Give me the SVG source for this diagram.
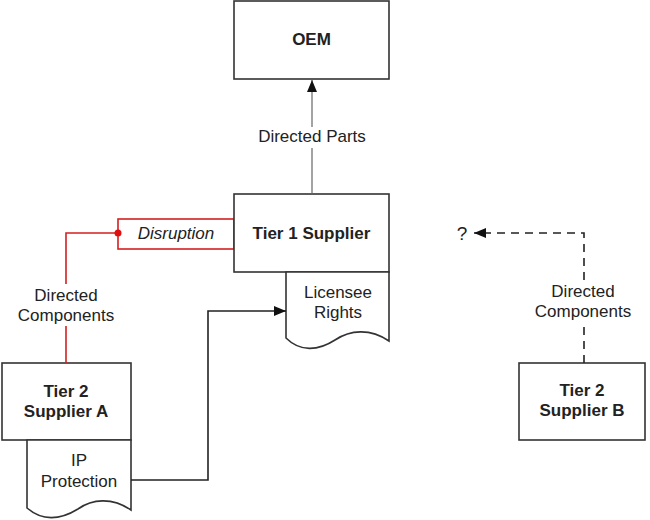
<svg xmlns="http://www.w3.org/2000/svg" width="650" height="520" viewBox="0 0 650 520">
<defs>
<style>
.box{fill:#fff;stroke:#333;stroke-width:1.6}
.t{font-family:"Liberation Sans",Arial,sans-serif;font-size:17px;fill:#222;text-anchor:middle}
.b{font-weight:bold}
.i{font-style:italic}
.ln{fill:none;stroke:#222;stroke-width:1.6}
.gray{fill:none;stroke:#666;stroke-width:1.2}
.red{fill:none;stroke:#d42020;stroke-width:1.6}
.dash{fill:none;stroke:#222;stroke-width:1.6;stroke-dasharray:8 6}
</style>
<marker id="ah" viewBox="0 0 12 10" refX="12" refY="5" markerWidth="12" markerHeight="10" markerUnits="userSpaceOnUse" orient="auto">
<path d="M0,0 L12,5 L0,10 Z" fill="#111"/>
</marker>
</defs>
<rect width="650" height="520" fill="#fff"/>
<g id="oem">
<rect class="box" x="234" y="1" width="155" height="78"/>
<text class="t b" x="311.5" y="45">OEM</text>
</g>
<g id="disruption">
<rect x="118" y="219" width="116" height="30" fill="#fff" stroke="#d42020" stroke-width="1.6"/>
<text class="t i" x="176" y="239">Disruption</text>
</g>
<g id="tier1">
<rect class="box" x="234" y="194" width="155" height="78"/>
<text class="t b" x="311.5" y="239">Tier 1 Supplier</text>
</g>
<g id="licensee">
<path class="box" d="M286,272 H389 V341 C370,328 350,330 335,340 C318,351 300,352 286,338 Z"/>
<text class="t" x="338" y="298">Licensee</text>
<text class="t" x="338" y="318">Rights</text>
</g>
<g id="tier2a">
<rect class="box" x="2" y="363" width="129" height="77"/>
<text class="t b" x="66" y="397">Tier 2</text>
<text class="t b" x="66" y="417">Supplier A</text>
</g>
<g id="ip">
<path class="box" d="M27,440 H131 V510 C112,497 92,499 78,509 C60,520 42,521 27,508 Z"/>
<text class="t" x="79" y="466">IP</text>
<text class="t" x="79" y="487">Protection</text>
</g>
<g id="tier2b">
<rect class="box" x="519" y="363" width="126" height="77"/>
<text class="t b" x="582" y="396">Tier 2</text>
<text class="t b" x="582" y="416">Supplier B</text>
</g>
<g id="connectors">
<path class="gray" d="M312,194 V148"/>
<path class="gray" d="M312,127 V80" marker-end="url(#ah)"/>
<path class="red" d="M118,233 H66 V284"/>
<path class="red" d="M66,326 V363"/>
<circle cx="118" cy="233" r="3.5" fill="#e01010"/>
<path class="ln" d="M131,480 H208 V311 H286" marker-end="url(#ah)"/>
<path class="dash" d="M584,363 V324"/>
<path class="dash" d="M584,280 V233 H474" marker-end="url(#ah)"/>
<text class="t" x="312" y="142">Directed Parts</text>
<text class="t" x="66" y="301">Directed</text>
<text class="t" x="66" y="321">Components</text>
<text class="t" x="583" y="297">Directed</text>
<text class="t" x="583" y="317">Components</text>
<text class="t" x="462" y="240" style="font-size:19px">?</text>
</g>
</svg>
